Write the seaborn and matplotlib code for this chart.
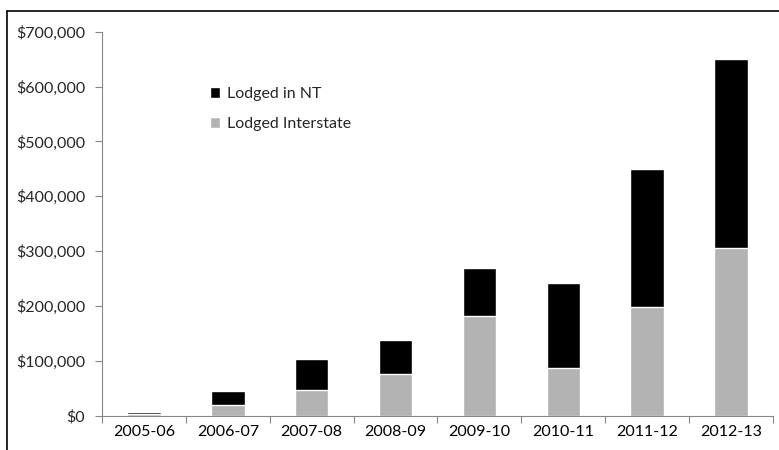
import numpy as np
import pandas as pd
import seaborn as sns
from matplotlib import pyplot as plt
from matplotlib.lines import Line2D
from matplotlib.patches import Patch
from matplotlib.ticker import FuncFormatter

years = ['2005-06', '2006-07', '2007-08', '2008-09',
         '2009-10', '2010-11', '2011-12', '2012-13']
lodged_interstate = [4000, 19500, 47500, 76500, 181500, 87500, 197500, 305000]
lodged_nt = [3500, 25500, 56000, 61000, 87000, 154500, 252500, 345000]

df = pd.DataFrame({'year': years,
                   'interstate': lodged_interstate,
                   'nt': lodged_nt})
df['total'] = df['interstate'] + df['nt']

sns.set_theme(style='white')
plt.rcParams['font.family'] = ['Lato', 'DejaVu Sans']

fig = plt.figure(figsize=(7.79, 4.5), dpi=100)
ax = fig.add_axes([0.1309, 0.0762, 0.8614, 0.8534])

# stacked: total in black, interstate in grey drawn over it
sns.barplot(data=df, x='year', y='total', color='black', width=0.4,
            saturation=1, ax=ax)
sns.barplot(data=df, x='year', y='interstate', color='#b3b3b3', width=0.4,
            saturation=1, ax=ax)

ax.set_xlim(-0.5, 7.5)
ax.set_ylim(0, 700000)
ax.set_yticks(np.arange(0, 700001, 100000))
ax.yaxis.set_major_formatter(FuncFormatter(lambda v, p: '${:,.0f}'.format(v)))
ax.set_xlabel('')
ax.set_ylabel('')

ax.set_xticks(np.arange(-0.5, 8, 1), minor=True)
ax.tick_params(axis='x', which='major', length=0, labelsize=11.5, pad=7,
               colors='black')
ax.tick_params(axis='x', which='minor', length=5, width=0.8,
               color='#868686', direction='out', bottom=True)
ax.tick_params(axis='y', length=5, width=0.8, color='#868686',
               labelsize=11.5, left=True, direction='out', pad=7)

for side in ['top', 'right']:
    ax.spines[side].set_visible(False)
for side in ['left', 'bottom']:
    ax.spines[side].set_color('#868686')
    ax.spines[side].set_linewidth(0.8)

handles = [Patch(facecolor='black', label='Lodged in NT'),
           Patch(facecolor='#b3b3b3', label='Lodged Interstate')]
fig.legend(handles=handles, loc='upper left',
           bbox_to_anchor=(210 / 779, 1 - 87 / 450),
           frameon=False, fontsize=11.5, handlelength=0.65,
           handleheight=0.65, handletextpad=0.4, labelspacing=1.0,
           borderaxespad=0, borderpad=0)

# chart border (only left and top edges visible in the crop)
fig.add_artist(Line2D([7 / 779, 7 / 779], [0, 1 - 11 / 450],
                      transform=fig.transFigure, color='black', lw=1.2))
fig.add_artist(Line2D([7 / 779, 1], [1 - 11 / 450, 1 - 11 / 450],
                      transform=fig.transFigure, color='black', lw=1.2))

fig.savefig('out.png', dpi=100)
